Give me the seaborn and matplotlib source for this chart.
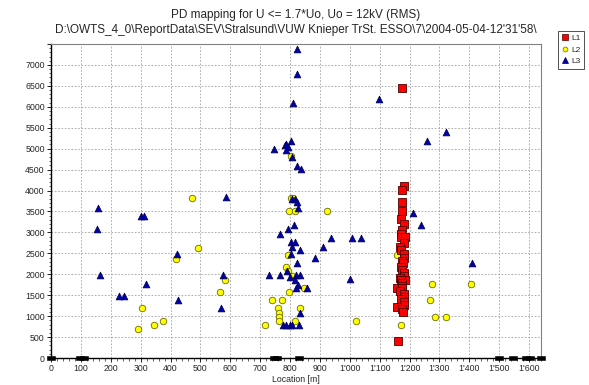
import matplotlib
matplotlib.use("Agg")
import matplotlib.pyplot as plt
import seaborn as sns
import pandas as pd
from matplotlib.ticker import MultipleLocator, FuncFormatter
from matplotlib.lines import Line2D

# ---- data (location [m], charge) ----
l1_x = [1174, 1180, 1176, 1175, 1176, 1171, 1181, 1176, 1172, 1170, 1184, 1182, 1168, 1170,
        1182, 1182, 1174, 1178, 1170, 1175, 1180, 1182, 1168, 1185, 1170, 1176, 1174, 1158,
        1175, 1168, 1180, 1182, 1172, 1180, 1182, 1158, 1176, 1178, 1163]
l1_y = [6450, 4100, 4010, 3730, 3515, 3320, 3200, 3050, 2960, 2880, 2880, 2740, 2650, 2580,
        2480, 2380, 2320, 2260, 2180, 2100, 2040, 1960, 1920, 1860, 1860, 1780, 1720, 1670,
        1670, 1600, 1540, 1460, 1400, 1330, 1270, 1220, 1160, 1100, 400]

l2_x = [292, 303, 346, 376, 418, 493, 473, 565, 583, 802, 802, 811, 797, 817, 924, 792, 786,
        794, 805, 846, 795, 738, 773, 760, 833, 763, 764, 763, 817, 716, 1020, 1159, 1275,
        1407, 1268, 1284, 1323, 1173]
l2_y = [690, 1186, 788, 890, 2355, 2634, 3811, 1568, 1862, 4813, 3826, 3810, 3516, 3516, 3516,
        2458, 2163, 2076, 1964, 1678, 1583, 1384, 1384, 1201, 1201, 1082, 986, 883, 883, 788,
        883, 2458, 1766, 1766, 1384, 978, 978, 788]

l3_x = [158, 153, 164, 227, 244, 301, 312, 318, 422, 426, 585, 574, 569, 822, 822, 810, 747,
        783, 788, 794, 785, 803, 805, 824, 837, 807, 816, 822, 827, 814, 792, 766, 802, 816,
        805, 835, 909, 936, 1006, 1036, 802, 883, 822, 790, 728, 768, 799, 819, 833, 817,
        1002, 827, 858, 819, 833, 775, 788, 799, 806, 830, 1097, 1323, 1260, 1211, 1240, 1410]
l3_y = [3572, 3079, 1981, 1480, 1480, 3389, 3389, 1759, 2475, 1390, 3850, 1973, 1186, 7391,
        6794, 6093, 4981, 5084, 5107, 5043, 4964, 5179, 4805, 4590, 4503, 3787, 3787, 3716,
        3588, 3174, 3071, 2959, 2776, 2776, 2642, 2578, 2657, 2857, 2857, 2857, 2475, 2379,
        2275, 2076, 1973, 1973, 1940, 1981, 1981, 1862, 1878, 1742, 1663, 1663, 1082, 788,
        788, 788, 788, 788, 6181, 5387, 5179, 3468, 3174, 2275]

joints_x = [0, 98, 110, 745, 757, 830, 1500, 1545, 1590, 1602, 1640]
joints_y = [0] * len(joints_x)

title_lines = ["PD mapping for U <= 1.7*Uo, Uo = 12kV (RMS)",
               "D:\\OWTS_4_0\\ReportData\\SEV\\Stralsund\\VUW Knieper TrSt. ESSO\\7\\2004-05-04-12'31'58\\"]
series_names = ["L1", "L2", "L3"]

df1 = pd.DataFrame({"x": l1_x, "y": l1_y})
df2 = pd.DataFrame({"x": l2_x, "y": l2_y})
df3 = pd.DataFrame({"x": l3_x, "y": l3_y})
dfj = pd.DataFrame({"x": joints_x, "y": joints_y})

sns.set_style("white")
plt.rcParams["font.family"] = ["Liberation Sans", "DejaVu Sans"]

fig = plt.figure(figsize=(5.89, 3.85), dpi=100)
ax = fig.add_axes([51 / 589, 1 - 358 / 385, (541 - 51) / 589, (358 - 44) / 385])

sns.scatterplot(data=df2, x="x", y="y", ax=ax, marker="o", s=22, color="#ffff00",
                edgecolor="#6b6b00", linewidth=0.6, zorder=3)
sns.scatterplot(data=df3, x="x", y="y", ax=ax, marker="^", s=24, color="#0000b0",
                edgecolor="#000040", linewidth=0.5, zorder=4)
sns.scatterplot(data=df1, x="x", y="y", ax=ax, marker="s", s=30, color="#ff0000",
                edgecolor="#500000", linewidth=0.6, zorder=5)
rect = [(-1.6, -0.7), (1.6, -0.7), (1.6, 0.7), (-1.6, 0.7), (-1.6, -0.7)]
sns.scatterplot(data=dfj, x="x", y="y", ax=ax, marker=rect, s=30, color="black",
                edgecolor="black", linewidth=0.4, zorder=6, clip_on=False)

ax.set_xlim(0, 1640)
ax.set_ylim(0, 7500)
ax.xaxis.set_major_locator(MultipleLocator(100))
ax.xaxis.set_minor_locator(MultipleLocator(20))
ax.yaxis.set_major_locator(MultipleLocator(500))
ax.yaxis.set_minor_locator(MultipleLocator(100))


def xfmt(v, pos):
    v = int(round(v))
    if v >= 1000:
        return f"{v // 1000}'{v % 1000:03d}"
    return str(v)


def yfmt(v, pos):
    v = int(round(v))
    return "" if v > 7000 else str(v)


ax.xaxis.set_major_formatter(FuncFormatter(xfmt))
ax.yaxis.set_major_formatter(FuncFormatter(yfmt))
ax.grid(True, which="major", color="#a0a0a0", linestyle=(0, (2, 2)), linewidth=0.6)
ax.set_axisbelow(True)
ax.tick_params(axis="both", which="major", labelsize=6.3, length=3, width=0.6,
               direction="out", pad=1.5, color="black", left=True, bottom=True)
ax.tick_params(axis="both", which="minor", length=1.8, width=0.5, direction="out",
               left=True, bottom=True)
ax.set_xlabel("Location [m]", fontsize=6.3, labelpad=1)
ax.set_ylabel("")
for side in ["left", "bottom"]:
    ax.spines[side].set_color("black")
    ax.spines[side].set_linewidth(1.0)
for side in ["top", "right"]:
    ax.spines[side].set_color("#808080")
    ax.spines[side].set_linewidth(0.8)

fig.text(296 / 589, 1 - 15 / 385, title_lines[0], ha="center", va="center", fontsize=8.5)
fig.text(296 / 589, 1 - 30 / 385, title_lines[1], ha="center", va="center", fontsize=8.5)

handles = [
    Line2D([], [], linestyle="none", marker="s", markersize=4, markerfacecolor="#ff0000",
           markeredgecolor="#500000", markeredgewidth=0.5),
    Line2D([], [], linestyle="none", marker="o", markersize=3.5, markerfacecolor="#ffff00",
           markeredgecolor="#6b6b00", markeredgewidth=0.5),
    Line2D([], [], linestyle="none", marker="^", markersize=4, markerfacecolor="#0000b0",
           markeredgecolor="#000040", markeredgewidth=0.5),
]
leg = fig.legend(handles, series_names, loc="upper left",
                 bbox_to_anchor=(558 / 589, 1 - 31 / 385), fontsize=6,
                 frameon=True, fancybox=False, handlelength=0.8, handletextpad=0.4,
                 borderpad=0.4, labelspacing=0.45, borderaxespad=0)
leg.get_frame().set_edgecolor("black")
leg.get_frame().set_linewidth(0.6)

fig.savefig("out.png", dpi=100)
